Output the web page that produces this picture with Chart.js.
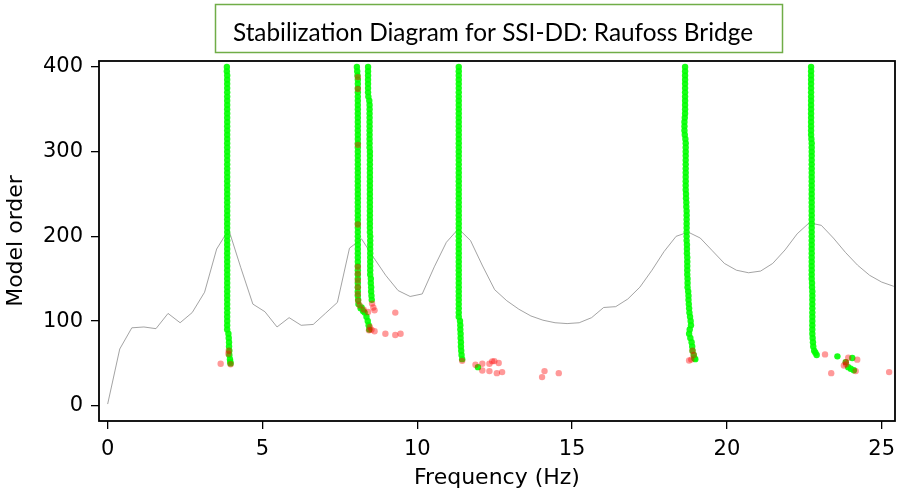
<!DOCTYPE html>
<html>
<head>
<meta charset="utf-8">
<script src="https://cdn.jsdelivr.net/npm/chart.js@4/dist/chart.umd.min.js"></script>
<style>
  html, body { margin: 0; padding: 0; background: #ffffff; }
  #wrap { width: 899px; height: 495px; position: relative; }
</style>
</head>
<body>
<div id="wrap"><canvas id="c" width="899" height="495"></canvas></div>
<script>
// ---------------- DATA ----------------
const titleText = "Stabilization Diagram for SSI-DD: Raufoss Bridge";
const xTicks = [0, 5, 10, 15, 20, 25];
const yTicks = [0, 100, 200, 300, 400];

// background spectrum (grey curve)
const specFreq = [0.00,0.39,0.78,1.17,1.56,1.95,2.34,2.73,3.13,3.52,3.91,4.30,4.69,5.08,5.47,5.86,6.25,6.64,7.03,7.42,
  7.81,8.20,8.59,8.98,9.38,9.77,10.16,10.55,10.94,11.33,11.72,12.11,12.50,12.89,13.28,13.67,14.06,14.45,14.84,15.23,
  15.63,16.02,16.41,16.80,17.19,17.58,17.97,18.36,18.75,19.14,19.53,19.92,20.31,20.70,21.09,21.48,21.88,22.27,22.66,23.05,
  23.44,23.83,24.22,24.61,25.00,25.39];
const specLevel = [2,67,92,93,91,109,98,110,134,185,208,163,120,111,93,104,95,96,109,122,
  186,197,175,154,136,129,132,164,193,209,195,165,137,124,114,106,101,98,97,98,
  104,116,117,126,140,160,182,200,205,198,183,168,160,157,159,168,184,203,216,213,
  198,181,166,154,146,141];

// model orders for the stable-pole columns
const modelOrders = [400,395,390,385,380,375,370,365,360,355,
  350,345,340,335,330,325,320,315,310,305,
  300,295,290,285,280,275,270,265,260,255,
  250,245,240,235,230,225,220,215,210,205,
  200,195,190,185,180,175,170,165,160,155,
  150,145,140,135,130,125,120,115,110,105,
  100,95,90,85,80,75,70,65,60,55,
  50];

// stable pole frequencies (Hz) per column, aligned with modelOrders (null = no pole)
const mode1Freq = [3.85,3.85,3.86,3.86,3.86,3.86,3.86,3.86,3.86,3.86,
  3.86,3.86,3.86,3.86,3.86,3.86,3.86,3.86,3.86,3.86,
  3.86,3.86,3.86,3.86,3.86,3.86,3.86,3.86,3.86,3.86,
  3.86,3.86,3.86,3.86,3.86,3.86,3.86,3.86,3.86,3.86,
  3.86,3.86,3.86,3.86,3.86,3.86,3.86,3.86,3.86,3.86,
  3.86,3.86,3.86,3.86,3.86,3.86,3.86,3.86,3.86,3.86,
  3.86,3.86,3.86,3.90,3.91,3.92,3.92,3.93,3.93,3.95,
  3.97];
const mode2Freq = [8.05,8.06,8.07,8.08,8.08,8.08,8.08,8.08,8.08,8.08,
  8.08,8.08,8.08,8.08,8.08,8.08,8.08,8.08,8.08,8.08,
  8.08,8.08,8.08,8.08,8.08,8.08,8.08,8.08,8.08,8.08,
  8.08,8.08,8.08,8.08,8.08,8.08,8.08,8.08,8.08,8.08,
  8.08,8.08,8.08,8.08,8.08,8.08,8.08,8.08,8.08,8.08,
  8.08,8.08,8.08,8.08,8.08,8.09,8.10,8.17,8.30,8.36,
  8.40,8.43,8.45,null,null,null,null,null,null,null,
  null];
const mode3Freq = [8.41,8.41,8.41,8.41,8.41,8.41,8.41,8.42,8.45,8.46,
  8.46,8.46,8.46,8.46,8.46,8.46,8.46,8.46,8.46,8.46,
  8.47,8.47,8.47,8.47,8.47,8.47,8.47,8.47,8.47,8.47,
  8.47,8.47,8.47,8.47,8.47,8.47,8.47,8.47,8.47,8.47,
  8.48,8.48,8.48,8.48,8.48,8.48,8.48,8.48,8.48,8.48,
  8.50,8.50,8.51,8.51,8.52,8.53,null,null,null,null,
  null,null,null,null,null,null,null,null,null,null,
  null];
const mode4Freq = [11.34,11.34,11.34,11.34,11.34,11.34,11.34,11.34,11.34,11.34,
  11.34,11.34,11.34,11.34,11.34,11.34,11.34,11.34,11.34,11.34,
  11.34,11.34,11.34,11.34,11.34,11.34,11.34,11.34,11.34,11.34,
  11.34,11.34,11.34,11.34,11.34,11.34,11.34,11.34,11.34,11.34,
  11.34,11.34,11.34,11.34,11.34,11.34,11.34,11.34,11.34,11.34,
  11.34,11.34,11.34,11.34,11.34,11.34,11.34,11.34,11.34,11.34,
  11.38,11.39,11.39,11.40,11.40,11.41,11.41,11.42,11.43,11.45,
  null];
const mode5Freq = [18.65,18.65,18.65,18.65,18.65,18.65,18.65,18.65,18.65,18.65,
  18.65,18.65,18.64,18.63,18.63,18.63,18.64,18.66,18.67,18.67,
  18.67,18.67,18.67,18.67,18.67,18.67,18.67,18.67,18.67,18.67,
  18.68,18.68,18.69,18.69,18.70,18.70,18.70,18.70,18.70,18.70,
  18.70,18.70,18.71,18.71,18.71,18.72,18.72,18.72,18.72,18.72,
  18.73,18.73,18.73,18.75,18.76,18.76,18.77,18.78,18.79,18.81,
  18.83,18.84,18.80,18.78,18.82,18.86,18.88,18.89,18.93,18.98,
  null];
const mode6Freq = [22.72,22.72,22.72,22.72,22.72,22.72,22.72,22.72,22.72,22.72,
  22.72,22.72,22.72,22.72,22.72,22.72,22.72,22.73,22.74,22.74,
  22.74,22.74,22.74,22.74,22.74,22.74,22.74,22.74,22.74,22.74,
  22.74,22.74,22.74,22.74,22.74,22.74,22.74,22.74,22.74,22.74,
  22.74,22.74,22.74,22.74,22.74,22.74,22.74,22.74,22.74,22.74,
  22.74,22.75,22.75,22.76,22.76,22.76,22.76,22.76,22.76,22.76,
  22.76,22.76,22.76,22.76,22.77,22.78,22.79,22.82,22.90,null,
  null];

// isolated stable poles
const extraStableFreq  = [3.96, 8.20, 8.25, 11.96, 18.95, 22.86, 23.57, 24.05, 23.84, 23.92, 24.00, 24.10];
const extraStableOrder = [52,   116,  112,  45.6,  56,    62.5,  58.3,  56.3,  51.5,  45.6,  43.7,  42.0];

// unstable poles
const unstableFreq  = [3.65,3.97,3.90,3.91,
  8.08,8.08,8.08,8.08,8.08,8.08,8.08,8.08,8.08,8.09,
  8.14,8.27,8.41,8.62,8.54,9.29,8.44,8.52,8.62,8.97,9.29,9.46,8.47,8.58,
  11.45,11.88,12.10,12.10,12.33,12.42,12.49,12.63,12.33,12.57,12.74,14.11,14.03,14.57,
  18.78,18.89,18.93,18.85,
  23.17,23.92,24.21,23.84,23.78,24.16,23.37,25.24,23.85];
const unstableOrder = [49.6,49,61.5,65,
  388,374,308,214,164,156,148,140,132,124,
  118.5,113.5,110.6,112.6,120.6,110,89,89.8,88,85,83.5,85,93,116,
  53,48.4,49.6,41.7,49.6,52.4,52.7,50.4,40.9,38.5,39.7,40.9,33.8,38.5,
  53.5,65,60,54.5,
  60.6,56.7,54.4,51.5,47.6,40.9,38.5,39.7,49];

// ---------------- BUILD ----------------
function pairs(xs, ys) {
  const out = [];
  for (let i = 0; i < xs.length; i++) {
    if (xs[i] !== null && ys[i] !== null) out.push({ x: xs[i], y: ys[i] });
  }
  return out;
}
const stablePts = []
  .concat(pairs(mode1Freq, modelOrders))
  .concat(pairs(mode2Freq, modelOrders))
  .concat(pairs(mode3Freq, modelOrders))
  .concat(pairs(mode4Freq, modelOrders))
  .concat(pairs(mode5Freq, modelOrders))
  .concat(pairs(mode6Freq, modelOrders))
  .concat(pairs(extraStableFreq, extraStableOrder));
const unstablePts = pairs(unstableFreq, unstableOrder);
const specPts = pairs(specFreq, specLevel);

const titleBox = {
  id: 'titleBox',
  afterDraw(chart) {
    const ctx = chart.ctx;
    ctx.save();
    ctx.strokeStyle = '#70AD47';
    ctx.lineWidth = 1.5;
    ctx.strokeRect(215.5, 4.5, 567, 48);
    ctx.font = '20px Lato';
    const w = ctx.measureText(titleText).width;
    const size = 20 * 520 / w;
    ctx.font = size.toFixed(2) + 'px Lato';
    ctx.fillStyle = '#000';
    ctx.textAlign = 'center';
    ctx.textBaseline = 'alphabetic';
    ctx.fillText(titleText, 493, 41);
    ctx.restore();
  }
};
const frame = {
  id: 'frame',
  afterDraw(chart) {
    const a = chart.chartArea;
    const ctx = chart.ctx;
    ctx.save();
    ctx.strokeStyle = '#000';
    ctx.lineWidth = 1.8;
    ctx.strokeRect(a.left, a.top, a.right - a.left, a.bottom - a.top);
    ctx.restore();
  }
};

const fam = "'DejaVu Sans', sans-serif";
const tickFont = { family: fam, size: 21 };
new Chart(document.getElementById('c'), {
  type: 'scatter',
  data: {
    datasets: [
      { label: 'unstable', data: unstablePts, order: 1,
        backgroundColor: 'rgba(255,0,0,0.4)', borderWidth: 0, pointRadius: 3.2 },
      { label: 'stable', data: stablePts, order: 2,
        backgroundColor: 'rgba(0,255,0,0.9)', borderWidth: 0, pointRadius: 3.2 },
      { type: 'line', label: 'spectrum', data: specPts, order: 3,
        borderColor: 'rgba(140,140,140,0.8)', borderWidth: 1, pointRadius: 0,
        fill: false, tension: 0 }
    ]
  },
  options: {
    responsive: false,
    animation: false,
    devicePixelRatio: 1,
    layout: { padding: { top: 61, right: 3, bottom: 0, left: 0 } },
    plugins: { legend: { display: false }, tooltip: { enabled: false }, title: { display: false } },
    scales: {
      x: {
        type: 'linear', min: -0.28, max: 25.43,
        afterBuildTicks: (s) => { s.ticks = xTicks.map(v => ({ value: v })); },
        afterFit: (s) => { s.height = 74; s.paddingLeft = 0; s.paddingRight = 0; },
        border: { display: false },
        grid: { drawOnChartArea: false, drawTicks: true, tickLength: 8, color: '#000', lineWidth: 1.3 },
        ticks: { font: tickFont, color: '#000', padding: 8, maxRotation: 0 },
        title: { display: true, text: 'Frequency (Hz)', font: { family: fam, size: 22 }, color: '#000',
          padding: { top: 0, bottom: 4 } }
      },
      y: {
        type: 'linear', min: -18, max: 407,
        afterBuildTicks: (s) => { s.ticks = yTicks.map(v => ({ value: v })); },
        afterFit: (s) => { s.width = 99; s.paddingTop = 0; s.paddingBottom = 0; },
        border: { display: false },
        grid: { drawOnChartArea: false, drawTicks: true, tickLength: 8, color: '#000', lineWidth: 1.3 },
        ticks: { font: tickFont, color: '#000', padding: 8 },
        title: { display: true, text: 'Model order', font: { family: fam, size: 22 }, color: '#000',
          padding: { top: 3, bottom: 0 } }
      }
    }
  },
  plugins: [titleBox, frame]
});
</script>
</body>
</html>
